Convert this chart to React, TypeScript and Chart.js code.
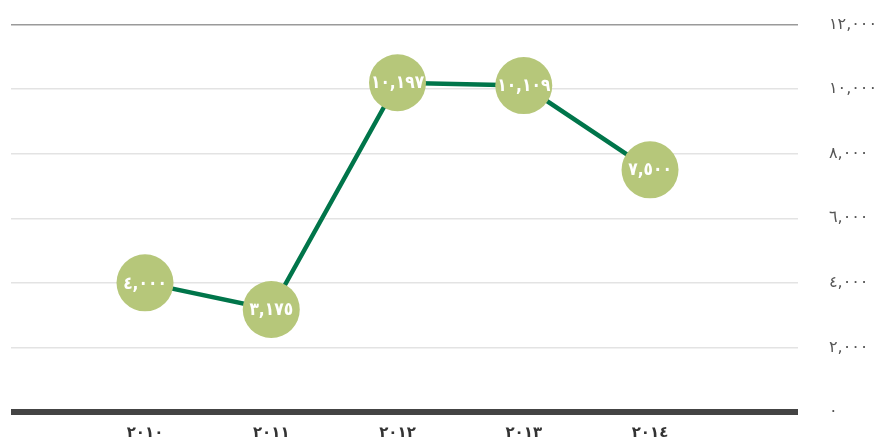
import React, { useEffect, useRef } from "react";
import { Chart, registerables } from "chart.js";

Chart.register(...registerables);

const years = [2010, 2011, 2012, 2013, 2014];
const yearLabels = ["٢٠١٠", "٢٠١١", "٢٠١٢", "٢٠١٣", "٢٠١٤"];
const values = [4000, 3175, 10197, 10109, 7500];
const pointLabels = ["٤,٠٠٠", "٣,١٧٥", "١٠,١٩٧", "١٠,١٠٩", "٧,٥٠٠"];
const yTickValues = [0, 2000, 4000, 6000, 8000, 10000, 12000];
const yTickLabels = ["٠", "٢,٠٠٠", "٤,٠٠٠", "٦,٠٠٠", "٨,٠٠٠", "١٠,٠٠٠", "١٢,٠٠٠"];

const FONT = "'DejaVu Sans', sans-serif";

const pointLabelPlugin = {
  id: "pointLabels",
  afterDatasetsDraw(chart: any) {
    const ctx = chart.ctx;
    const meta = chart.getDatasetMeta(0);
    meta.data.forEach((pt: any, i: number) => {
      ctx.save();
      ctx.fillStyle = "#ffffff";
      ctx.font = `bold 18px ${FONT}`;
      ctx.textAlign = "center";
      ctx.textBaseline = "middle";
      ctx.translate(pt.x, pt.y + 1);
      ctx.scale(0.86, 1);
      ctx.fillText(pointLabels[i], 0, 0);
      ctx.restore();
    });
  },
};

const zeroPad = (scale: any) => {
  scale.paddingTop = 0;
  scale.paddingBottom = 0;
  scale.paddingLeft = 0;
  scale.paddingRight = 0;
};

export default function App() {
  const ref = useRef<HTMLCanvasElement | null>(null);
  useEffect(() => {
    if (!ref.current) return;
    const chart = new Chart(ref.current, {
      type: "line",
      data: {
        datasets: [
          {
            data: years.map((y, i) => ({ x: y, y: values[i] })),
            borderColor: "#00754a",
            borderWidth: 4.5,
            backgroundColor: "#b6c77a",
            pointBackgroundColor: "#b6c77a",
            pointBorderWidth: 0,
            pointRadius: 28.5,
            pointHoverRadius: 28.5,
            tension: 0,
            clip: false as any,
          },
        ],
      },
      options: {
        animation: false,
        responsive: true,
        maintainAspectRatio: false,
        layout: { autoPadding: false, padding: { left: 11, top: 24.5, right: 0, bottom: 0 } },
        plugins: { legend: { display: false }, tooltip: { enabled: false } },
        scales: {
          x: {
            type: "linear",
            min: 2008.9386,
            max: 2015.172,
            grid: { display: false, drawTicks: false },
            border: { display: false },
            afterBuildTicks: (scale: any) => {
              scale.ticks = years.map((v) => ({ value: v }));
            },
            afterFit: (scale: any) => {
              scale.height = 27;
              zeroPad(scale);
            },
            ticks: {
              padding: 12,
              autoSkip: false,
              maxRotation: 0,
              color: "#333333",
              font: { family: FONT, size: 15, weight: "bold" },
              callback: (v: any) => {
                const i = years.indexOf(Number(v));
                return i >= 0 ? yearLabels[i] : "";
              },
            },
          },
          y: {
            position: "right",
            min: 0,
            max: 12000,
            afterBuildTicks: (scale: any) => {
              scale.ticks = yTickValues.map((v) => ({ value: v }));
            },
            afterFit: (scale: any) => {
              scale.width = 81;
              zeroPad(scale);
            },
            border: { display: false },
            grid: {
              drawTicks: false,
              color: (c: any) =>
                c.tick && c.tick.value === 0
                  ? "#444444"
                  : c.tick && c.tick.value === 12000
                  ? "#9a9a9a"
                  : "#e3e3e3",
              lineWidth: (c: any) =>
                c.tick && c.tick.value === 0 ? 6 : 1.5,
            },
            ticks: {
              padding: 31,
              color: "#555555",
              font: { family: FONT, size: 16 },
              callback: (v: any) => {
                const i = yTickValues.indexOf(Number(v));
                return i >= 0 ? yTickLabels[i] : "";
              },
            },
          },
        },
      },
      plugins: [pointLabelPlugin],
    });
    return () => chart.destroy();
  }, []);
  return (
    <div style={{ position: "fixed", left: 0, top: 0, width: 879, height: 439, background: "#fff" }}>
      <canvas ref={ref} />
    </div>
  );
}
